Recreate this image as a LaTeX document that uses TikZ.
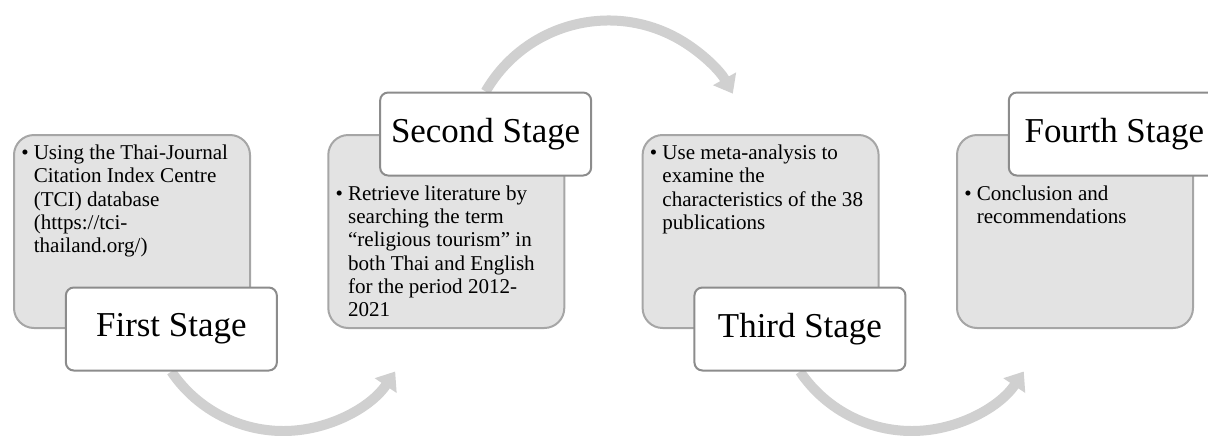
\documentclass[tikz,border=0pt]{standalone}
\usepackage{fontspec}
\setmainfont{Liberation Serif}
\usepackage{tikz}
\usetikzlibrary{arrows.meta,backgrounds}
\definecolor{stgrey}{HTML}{E3E3E3}
\definecolor{stedge}{HTML}{A6A6A6}
\definecolor{stlabel}{HTML}{8C8C8C}
\definecolor{starrow}{HTML}{D0D0D0}
\newcommand{\stagelist}[1]{\makebox[9.4pt][l]{\textbullet}\begin{tabular}[t]{@{}l@{}}#1\end{tabular}}

\begin{document}
\begin{tikzpicture}[x=0.75pt, y=0.75pt,
  stagebox/.style={draw=stedge, line width=1.5pt, fill=stgrey, minimum width=177pt, minimum height=144.75pt, inner sep=0pt, rounded corners=15pt},
  stagelabel/.style={draw=stlabel, line width=1.5pt, fill=white, minimum width=158.25pt, minimum height=62.25pt, inner sep=0pt, rounded corners=6pt, font=\fontsize{26.2}{30}\selectfont},
  stagetext/.style={anchor=base west, inner sep=0pt, font=\fontsize{15.8}{17.5}\selectfont},
  flowarc/.style={draw=starrow, line width=7.5pt, -{Triangle[length=12.75pt, width=19pt]}}]
  \useasboundingbox (0,0) rectangle (1208,-436);
  \clip (0,0) rectangle (1208,-436);
  \node[stagebox] (g1) at (132,-231.5) {};
  \node[stagebox] (g2) at (446.3,-231.5) {};
  \node[stagebox] (g3) at (760.6,-231.5) {};
  \node[stagebox] (g4) at (1075,-231.5) {};
  \node[stagetext, xshift=6pt, yshift=-19.1pt] (t1) at (g1.north west) {\stagelist{Using the Thai-Journal\\Citation Index Centre\\(TCI) database\\(https://tci-\\thailand.org/)}};
  \node[stagetext, xshift=6pt, yshift=-49.5pt] (t2) at (g2.north west) {\stagelist{Retrieve literature by\\searching the term\\“religious tourism” in\\both Thai and English\\for the period 2012-\\2021}};
  \node[stagetext, xshift=6pt, yshift=-19.1pt] (t3) at (g3.north west) {\stagelist{Use meta-analysis to\\examine the\\characteristics of the 38\\publications}};
  \node[stagetext, xshift=6pt, yshift=-49.5pt] (t4) at (g4.north west) {\stagelist{Conclusion and\\recommendations}};
  \node[stagelabel, xshift=29.5pt] (l1) at (g1.south) {First Stage};
  \node[stagelabel, xshift=29.5pt] (l2) at (g2.north) {Second Stage};
  \node[stagelabel, xshift=29.5pt] (l3) at (g3.south) {Third Stage};
  \node[stagelabel, xshift=29.5pt] (l4) at (g4.north) {Fourth Stage};
  % curved arrows behind the labels
  \begin{scope}[on background layer]
    \draw[flowarc] (l1.south) arc[start angle=214, end angle=326, radius=135];
    \draw[flowarc] (l2.north) arc[start angle=150, end angle=29, radius=142];
    \draw[flowarc] (l3.south) arc[start angle=214, end angle=326, radius=135];
  \end{scope}
\end{tikzpicture}
\end{document}
